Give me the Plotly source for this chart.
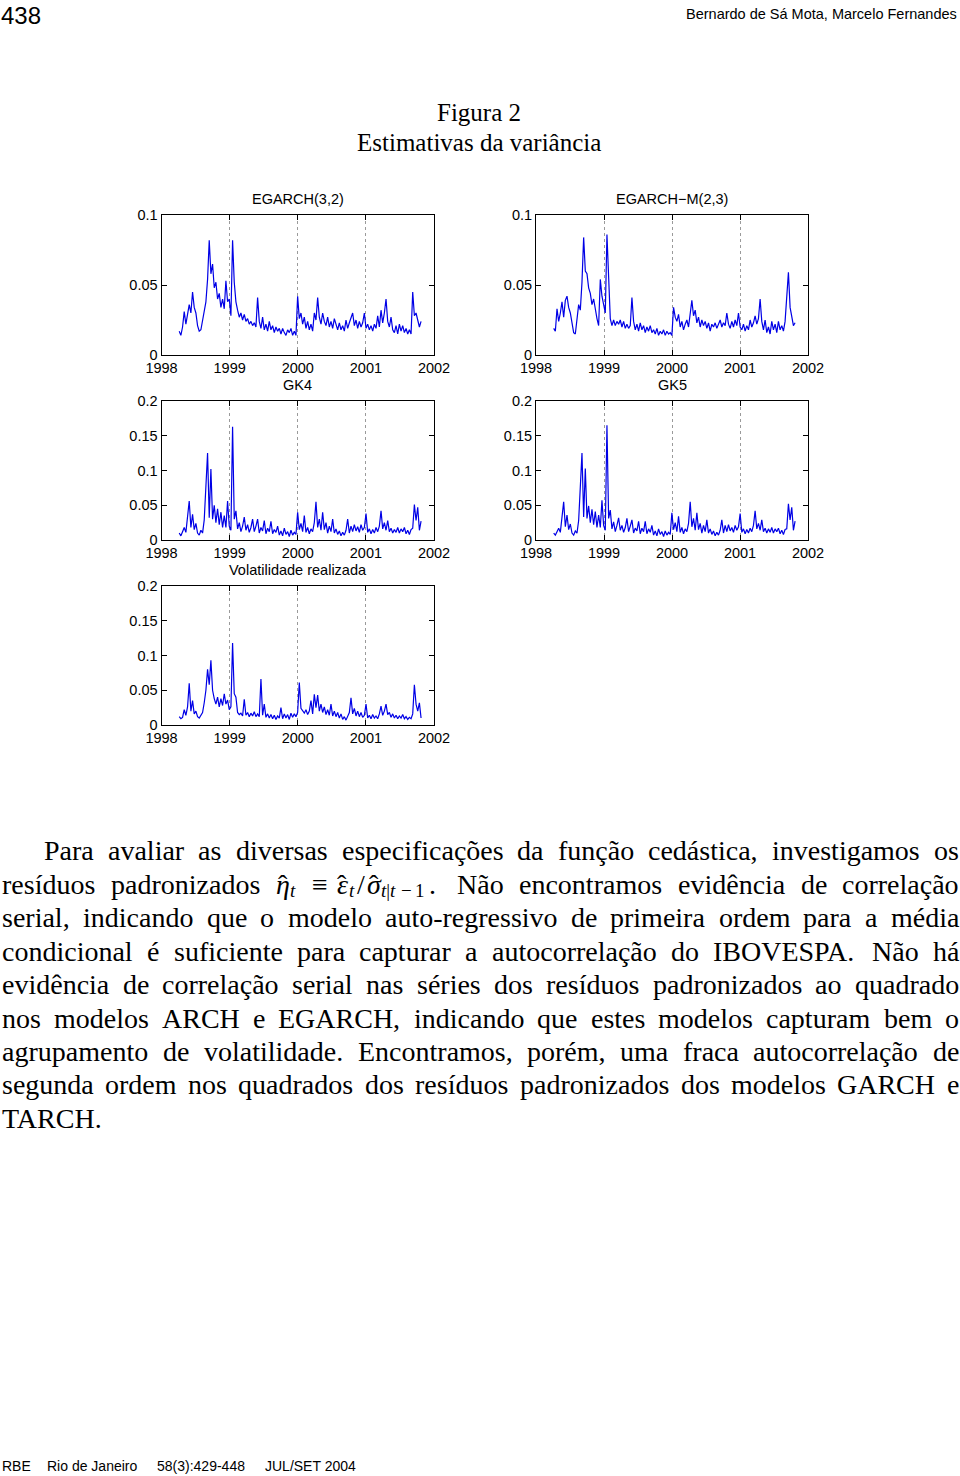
import unicodedata
import numpy as np
import plotly.graph_objects as go

# ---------------- data ----------------
DATE_START = 1998.26
DATE_END = 2001.81

egarch32 = [0.017, 0.014, 0.020, 0.031, 0.022, 0.028, 0.036, 0.030, 0.045, 0.034,
            0.030, 0.021, 0.017, 0.018, 0.024, 0.030, 0.038, 0.054, 0.082, 0.058,
            0.065, 0.048, 0.052, 0.040, 0.044, 0.034, 0.040, 0.033, 0.053, 0.038,
            0.040, 0.028, 0.082, 0.052, 0.038, 0.032, 0.027, 0.030, 0.025, 0.029,
            0.024, 0.026, 0.022, 0.024, 0.021, 0.023, 0.020, 0.041, 0.024, 0.019,
            0.027, 0.018, 0.022, 0.017, 0.024, 0.018, 0.021, 0.016, 0.020, 0.017,
            0.019, 0.015, 0.019, 0.016, 0.014, 0.018, 0.016, 0.019, 0.014, 0.017,
            0.014, 0.042, 0.026, 0.030, 0.022, 0.027, 0.019, 0.024, 0.018, 0.022,
            0.017, 0.030, 0.025, 0.041, 0.027, 0.022, 0.030, 0.024, 0.021, 0.027,
            0.020, 0.024, 0.019, 0.026, 0.021, 0.018, 0.023, 0.018, 0.021, 0.017,
            0.025, 0.019, 0.023, 0.026, 0.030, 0.021, 0.025, 0.019, 0.024, 0.020,
            0.023, 0.030, 0.019, 0.022, 0.018, 0.021, 0.017, 0.022, 0.019, 0.028,
            0.020, 0.032, 0.023, 0.030, 0.040, 0.024, 0.020, 0.027, 0.018, 0.016,
            0.021, 0.015, 0.022, 0.017, 0.021, 0.016, 0.019, 0.015, 0.018, 0.015,
            0.045, 0.028, 0.030, 0.025, 0.020, 0.024]

egarchm23 = [0.019, 0.017, 0.033, 0.024, 0.030, 0.038, 0.027, 0.039, 0.042, 0.034,
             0.030, 0.022, 0.016, 0.015, 0.024, 0.036, 0.032, 0.052, 0.084, 0.060,
             0.058, 0.048, 0.044, 0.036, 0.040, 0.031, 0.026, 0.021, 0.054, 0.042,
             0.036, 0.030, 0.086, 0.050, 0.026, 0.021, 0.025, 0.021, 0.024, 0.022,
             0.025, 0.020, 0.024, 0.019, 0.022, 0.019, 0.021, 0.041, 0.024, 0.018,
             0.022, 0.017, 0.023, 0.018, 0.021, 0.016, 0.020, 0.017, 0.021, 0.016,
             0.018, 0.015, 0.019, 0.014, 0.017, 0.015, 0.018, 0.014, 0.017, 0.015,
             0.016, 0.014, 0.034, 0.027, 0.024, 0.029, 0.020, 0.024, 0.018, 0.022,
             0.025, 0.020, 0.029, 0.039, 0.028, 0.032, 0.023, 0.027, 0.020, 0.025,
             0.021, 0.024, 0.019, 0.023, 0.017, 0.022, 0.020, 0.023, 0.019, 0.022,
             0.025, 0.020, 0.023, 0.021, 0.030, 0.022, 0.019, 0.024, 0.020, 0.025,
             0.021, 0.030, 0.020, 0.018, 0.022, 0.017, 0.021, 0.018, 0.025, 0.020,
             0.023, 0.028, 0.022, 0.026, 0.040, 0.024, 0.018, 0.025, 0.016, 0.020,
             0.015, 0.024, 0.018, 0.022, 0.016, 0.024, 0.018, 0.021, 0.017, 0.024,
             0.040, 0.059, 0.034, 0.028, 0.021, 0.023]

gk4 = [0.010, 0.006, 0.012, 0.018, 0.011, 0.036, 0.056, 0.018, 0.037, 0.015,
       0.024, 0.010, 0.007, 0.014, 0.010, 0.029, 0.073, 0.125, 0.032, 0.102,
       0.030, 0.050, 0.025, 0.045, 0.022, 0.040, 0.018, 0.035, 0.018, 0.056,
       0.020, 0.014, 0.163, 0.030, 0.042, 0.016, 0.025, 0.012, 0.020, 0.033,
       0.014, 0.022, 0.011, 0.018, 0.030, 0.012, 0.020, 0.030, 0.010, 0.018,
       0.013, 0.028, 0.009, 0.017, 0.012, 0.027, 0.009, 0.015, 0.011, 0.020,
       0.007, 0.013, 0.006, 0.017, 0.008, 0.012, 0.005, 0.014, 0.007, 0.011,
       0.008, 0.040, 0.015, 0.024, 0.012, 0.035, 0.011, 0.018, 0.009, 0.016,
       0.012, 0.025, 0.055, 0.018, 0.030, 0.014, 0.040, 0.015, 0.025, 0.010,
       0.020, 0.012, 0.030, 0.010, 0.016, 0.008, 0.013, 0.006, 0.011, 0.007,
       0.014, 0.030, 0.010, 0.020, 0.012, 0.022, 0.013, 0.019, 0.011, 0.022,
       0.014, 0.018, 0.038, 0.011, 0.016, 0.009, 0.015, 0.010, 0.018, 0.012,
       0.020, 0.042, 0.016, 0.025, 0.014, 0.028, 0.012, 0.017, 0.010, 0.015,
       0.011, 0.018, 0.010, 0.016, 0.012, 0.018, 0.009, 0.014, 0.008, 0.015,
       0.017, 0.051, 0.028, 0.047, 0.014, 0.027]

gk5 = [0.010, 0.007, 0.012, 0.017, 0.011, 0.035, 0.055, 0.019, 0.036, 0.015,
       0.023, 0.010, 0.007, 0.013, 0.010, 0.028, 0.072, 0.125, 0.033, 0.103,
       0.031, 0.049, 0.025, 0.044, 0.022, 0.041, 0.018, 0.036, 0.018, 0.057,
       0.021, 0.014, 0.165, 0.031, 0.043, 0.016, 0.026, 0.012, 0.021, 0.032,
       0.014, 0.021, 0.011, 0.018, 0.031, 0.012, 0.020, 0.029, 0.010, 0.017,
       0.013, 0.027, 0.009, 0.017, 0.012, 0.027, 0.009, 0.016, 0.011, 0.021,
       0.007, 0.013, 0.006, 0.016, 0.008, 0.012, 0.005, 0.013, 0.007, 0.011,
       0.008, 0.039, 0.015, 0.025, 0.012, 0.034, 0.011, 0.018, 0.009, 0.016,
       0.012, 0.024, 0.055, 0.019, 0.031, 0.014, 0.039, 0.015, 0.024, 0.010,
       0.021, 0.012, 0.029, 0.010, 0.016, 0.008, 0.013, 0.006, 0.011, 0.007,
       0.014, 0.029, 0.010, 0.021, 0.012, 0.022, 0.013, 0.018, 0.011, 0.021,
       0.014, 0.019, 0.038, 0.011, 0.016, 0.009, 0.015, 0.010, 0.017, 0.012,
       0.021, 0.042, 0.016, 0.024, 0.014, 0.029, 0.012, 0.017, 0.010, 0.016,
       0.011, 0.018, 0.010, 0.016, 0.012, 0.017, 0.009, 0.014, 0.008, 0.015,
       0.016, 0.052, 0.029, 0.047, 0.014, 0.027]

vol_realizada = [0.012, 0.009, 0.011, 0.022, 0.014, 0.026, 0.060, 0.020, 0.035, 0.016,
                 0.020, 0.012, 0.010, 0.014, 0.018, 0.032, 0.050, 0.080, 0.058, 0.093,
                 0.050, 0.038, 0.030, 0.040, 0.026, 0.038, 0.028, 0.045, 0.030, 0.036,
                 0.022, 0.026, 0.118, 0.045, 0.040, 0.018, 0.015, 0.017, 0.013, 0.037,
                 0.014, 0.018, 0.012, 0.017, 0.013, 0.019, 0.012, 0.016, 0.012, 0.066,
                 0.014, 0.030, 0.011, 0.016, 0.010, 0.015, 0.009, 0.014, 0.008, 0.013,
                 0.010, 0.025, 0.009, 0.016, 0.010, 0.015, 0.008, 0.017, 0.011, 0.016,
                 0.012, 0.018, 0.061, 0.024, 0.020, 0.017, 0.022, 0.015, 0.020, 0.035,
                 0.016, 0.044, 0.025, 0.043, 0.020, 0.030, 0.018, 0.026, 0.015, 0.022,
                 0.014, 0.030, 0.013, 0.020, 0.012, 0.018, 0.010, 0.016, 0.008, 0.012,
                 0.007, 0.012, 0.018, 0.039, 0.016, 0.024, 0.013, 0.020, 0.012, 0.018,
                 0.011, 0.014, 0.030, 0.010, 0.014, 0.009, 0.015, 0.010, 0.013, 0.009,
                 0.016, 0.027, 0.014, 0.020, 0.030, 0.015, 0.018, 0.011, 0.016, 0.010,
                 0.014, 0.009, 0.013, 0.010, 0.015, 0.009, 0.012, 0.008, 0.011, 0.009,
                 0.016, 0.058, 0.030, 0.020, 0.032, 0.010]

panel_titles = ["EGARCH(3,2)", "EGARCH\u2212M(2,3)", "GK4", "GK5", "Volatilidade realizada"]
year_ticks = [1998, 1999, 2000, 2001, 2002]
year_labels = ["1998", "1999", "2000", "2001", "2002"]
yticks_small = [0, 0.05, 0.1]
ylabels_small = ["0", "0.05", "0.1"]
yticks_big = [0, 0.05, 0.1, 0.15, 0.2]
ylabels_big = ["0", "0.05", "0.1", "0.15", "0.2"]

paragraph_lines = [
    "Para avaliar as diversas especificações da função cedástica, investigamos os",
    "resíduos padronizados @MATH Não encontramos evidência de correlação",
    "serial, indicando que o modelo auto-regressivo de primeira ordem para a média",
    "condicional é suficiente para capturar a autocorrelação do IBOVESPA. Não há",
    "evidência de correlação serial nas séries dos resíduos padronizados ao quadrado",
    "nos modelos ARCH e EGARCH, indicando que estes modelos capturam bem o",
    "agrupamento de volatilidade. Encontramos, porém, uma fraca autocorrelação de",
    "segunda ordem nos quadrados dos resíduos padronizados dos modelos GARCH e",
    "TARCH.",
]

# ---------------- page geometry ----------------
W, H = 960, 1476
SANS = "Liberation Sans, Arial, Helvetica, sans-serif"
SERIF = "Liberation Serif, Times New Roman, serif"
TICK_SIZE = 14.5

# panel boxes in pixels: (left, right, top, bottom)
boxes = [
    (161.5, 434, 215, 355),
    (536, 808, 215, 355),
    (161.5, 434, 401, 540),
    (536, 808, 401, 540),
    (161.5, 434, 586, 725),
]
series = [egarch32, egarchm23, gk4, gk5, vol_realizada]
big = [False, False, True, True, True]

fig = go.Figure()
layout = dict(
    template="none",
    width=W, height=H, autosize=False,
    margin=dict(l=0, r=0, t=0, b=0, pad=0, autoexpand=False),
    paper_bgcolor="white", plot_bgcolor="white", showlegend=False,
)

for k, (vals, (l, r, t, b), isbig) in enumerate(zip(series, boxes, big)):
    n = k + 1
    xs = np.linspace(DATE_START, DATE_END, len(vals))
    xa = "x" if n == 1 else f"x{n}"
    ya = "y" if n == 1 else f"y{n}"
    fig.add_trace(go.Scatter(x=xs, y=vals, mode="lines", xaxis=xa, yaxis=ya,
                             line=dict(color="#0000e6", width=1.2), hoverinfo="skip"))
    common = dict(showline=True, linecolor="black", linewidth=1, mirror="ticks",
                  ticks="inside", ticklen=5, tickcolor="black", tickwidth=1,
                  zeroline=False, fixedrange=True, automargin=False,
                  tickfont=dict(family=SANS, size=TICK_SIZE, color="black"))
    layout["xaxis" if n == 1 else f"xaxis{n}"] = dict(
        domain=[l / W, r / W], anchor=ya, range=[1998, 2002],
        tickvals=year_ticks, ticktext=year_labels,
        showgrid=True, gridcolor="#9a9a9a", griddash="dot", gridwidth=1,
        **common)
    layout["yaxis" if n == 1 else f"yaxis{n}"] = dict(
        domain=[1 - b / H, 1 - t / H], anchor=xa,
        range=[0, 0.2] if isbig else [0, 0.1],
        tickvals=yticks_big if isbig else yticks_small,
        ticktext=ylabels_big if isbig else ylabels_small,
        showgrid=False, **common)

fig.update_layout(**layout)

ann = []

def add_text(text, x, y, size, family, xanchor="center", color="black", borderpad=1):
    ann.append(dict(text=text, x=x / W, y=1 - y / H, xref="paper", yref="paper",
                    xanchor=xanchor, yanchor="middle", showarrow=False, borderpad=borderpad,
                    font=dict(size=size, family=family, color=color)))

# panel titles
title_y = [199, 199, 385, 385, 570]
for (l, r, t, b), tt, ty in zip(boxes, panel_titles, title_y):
    add_text(tt, (l + r) / 2, ty, TICK_SIZE, SANS)

# header / footer
add_text("438", 0, 15.8, 24, SANS, xanchor="left", borderpad=0)
add_text("Bernardo de Sá Mota, Marcelo Fernandes", 959, 14, 14.5, SANS, xanchor="right")
for txt, fx in [("RBE", 0), ("Rio de Janeiro", 45), ("58(3):429-448", 155), ("JUL/SET 2004", 263)]:
    add_text(txt, fx, 1465.5, 14, SANS, xanchor="left")

# figure caption
add_text("Figura 2", 479, 112.5, 25, SERIF)
add_text("Estimativas da variância", 479, 142.5, 25, SERIF)

# ---------------- justified paragraph ----------------
EM = {}
for ch, w in zip("abcdefghijklmnopqrstuvwxyz",
                 [.444, .5, .444, .5, .444, .333, .5, .5, .278, .278, .5, .278, .778,
                  .5, .5, .5, .5, .333, .389, .278, .5, .5, .722, .5, .5, .444]):
    EM[ch] = w
for ch, w in zip("ABCDEFGHIJKLMNOPQRSTUVWXYZ",
                 [.722, .667, .667, .722, .611, .556, .722, .722, .333, .389, .722, .611, .889,
                  .722, .722, .556, .722, .667, .556, .611, .722, .722, .944, .722, .722, .611]):
    EM[ch] = w
EM.update({",": .25, ".": .25, "-": .333, "/": .278, "(": .333, ")": .333, ":": .278})

BODY = 28
SUB = 19
MATH_WIDTH = 166
# pieces of  η̂_t ≡ ε̂_t / σ̂_{t|t-1}.   (offset px, text, size, anchor, vertical shift px)
MATH_PIECES = [
    (0, "<i>η</i>", BODY, "left", 0),
    (9, "ˆ", BODY, "center", 0),
    (14, "<i>t</i>", SUB, "left", 6),
    (36, "≡", BODY, "left", 0),
    (61, "<i>ε</i>", BODY, "left", 0),
    (68, "ˆ", BODY, "center", 0),
    (73, "<i>t</i>", SUB, "left", 6),
    (81, "/", BODY, "left", 0),
    (91, "<i>σ</i>", BODY, "left", 0),
    (100, "ˆ", BODY, "center", 0),
    (105, "<i>t</i>|<i>t</i>", SUB, "left", 6),
    (125, "−", SUB, "left", 6),
    (139, "1", SUB, "left", 6),
    (153, ".", BODY, "left", 0),
]

def word_width(wd):
    s = 0
    for ch in wd:
        base = unicodedata.normalize("NFD", ch)[0]
        s += EM.get(base, 0.5)
    return s * BODY

line_y0, line_dy = 851, 33.4
for li, line in enumerate(paragraph_lines):
    words = line.split(" ")
    toks = []
    for wd in words:
        if wd == "@MATH":
            toks.append((None, MATH_WIDTH))
        else:
            toks.append((wd, word_width(wd)))
    left = 42 if li == 0 else 0
    right = 957
    y = line_y0 + li * line_dy
    if li == len(paragraph_lines) - 1:
        gap = 0.25 * BODY
    else:
        gap = (right - left - sum(w for _, w in toks)) / (len(toks) - 1)
    x = left
    for txt, w in toks:
        if txt is None:
            for off, ptxt, psize, anc, dy in MATH_PIECES:
                add_text(ptxt, x + off, y + dy, psize, SERIF, xanchor=anc)
        else:
            add_text(txt, x, y, BODY, SERIF, xanchor="left")
        x += w + gap

fig.update_layout(annotations=ann)
fig.write_html("out.html", config={"responsive": False})
